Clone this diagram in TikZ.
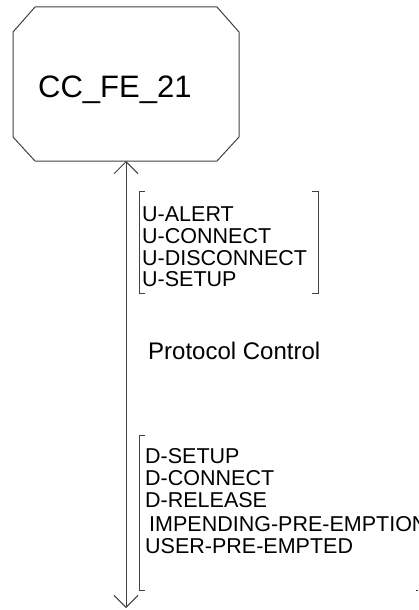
\documentclass[tikz,border=0pt]{standalone}
\usepackage{fontspec}
\setmainfont{Liberation Sans}
\usetikzlibrary{arrows.meta}
\begin{document}
\begin{tikzpicture}[x=1pt,y=-1pt,
  ln/.style={draw=black!75,line width=1pt},
  lbl/.style={anchor=base west,inner sep=0pt,font=\fontsize{21.5}{21.5}\selectfont},
  barbtip/.tip={Straight Barb[length=12pt,width=24pt,line width=1pt]}]
\useasboundingbox (0,0) rectangle (418,610);
% chamfered box
\draw[ln] (35,7) -- (217,7) -- (239,32) -- (239,137) -- (217,161) -- (35,161)
  -- (13,137) -- (13,32) -- cycle;
\coordinate (boxbottom) at (126,161);
\node[anchor=base west,inner sep=0pt,font=\fontsize{31}{31}\selectfont] (title) at (38,97) {CC\_FE\_21};
\coordinate (bottom) at (126,608);
\draw[ln,barbtip-barbtip] (boxbottom) -- (bottom);
% upper bracket
\draw[ln] (145,191) -- (139,191) -- (139,293) -- (145,293);
\draw[ln] (312,191) -- (318,191) -- (318,293) -- (312,293);
\node[lbl] (u1) at (142,221) {U-ALERT};
\node[lbl] (u2) at (142,243) {U-CONNECT};
\node[lbl] (u3) at (142,265) {U-DISCONNECT};
\node[lbl] (u4) at (142,286) {U-SETUP};
\node[anchor=base west,inner sep=0pt,font=\fontsize{24}{24}\selectfont] (pc) at (148,359) {Protocol Control};
% lower bracket
\draw[ln] (145,435) -- (139,435) -- (139,590) -- (145,590);
\draw[ln] (416,590) -- (418,590);
\node[lbl] (d1) at (145,463) {D-SETUP};
\node[lbl] (d2) at (145,485) {D-CONNECT};
\node[lbl] (d3) at (145,507) {D-RELEASE};
\node[lbl] (d4) at (149,531) {IMPENDING-PRE-EMPTION};
\node[lbl] (d5) at (145,553) {USER-PRE-EMPTED};
\end{tikzpicture}
\end{document}
